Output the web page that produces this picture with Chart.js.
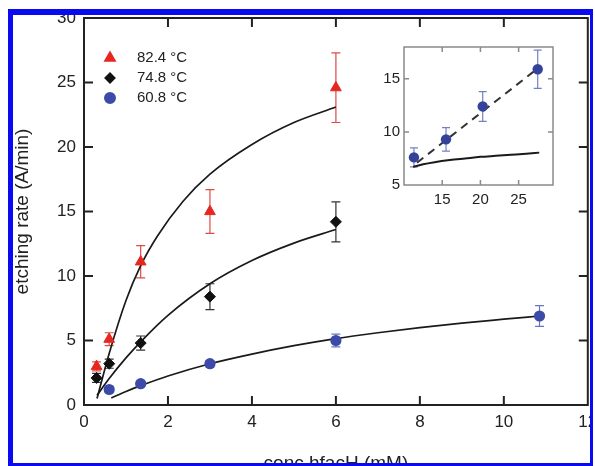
<!DOCTYPE html>
<html>
<head>
<meta charset="utf-8">
<script src="https://cdn.jsdelivr.net/npm/chart.js@4.4.1/dist/chart.umd.min.js"></script>
<style>
  html, body { margin: 0; padding: 0; background: #fff; overflow: hidden; }
  #wrap { position: relative; width: 595px; height: 466px; overflow: hidden; background: #fff; }
  #main { position: absolute; left: 0; top: 0; }
  #inset { position: absolute; left: 372px; top: 40px; }
  #frame {
    position: absolute; left: 8px; top: 9px; width: 585px; height: 457px;
    box-sizing: border-box; border-style: solid; border-color: #0a0af2;
    border-width: 6px 3px 3px 5px; box-shadow: 0 0 0 40px #fff; pointer-events: none;
  }
</style>
</head>
<body>
<div id="wrap">
  <canvas id="main" width="595" height="490"></canvas>
  <canvas id="inset" width="188" height="180"></canvas>
  <div id="frame"></div>
</div>
<script>
// measured points (conc hfacH in mM, etching rate in A/min)
const conc824 = [0.3, 0.6, 1.35, 3.0, 6.0];
const rate824 = [3.0, 5.1, 11.1, 15.0, 24.6];
const err824 = [0.35, 0.5, 1.25, 1.7, 2.7];

const conc748 = [0.3, 0.6, 1.35, 3.0, 6.0];
const rate748 = [2.1, 3.2, 4.8, 8.4, 14.2];
const err748 = [0.35, 0.35, 0.55, 1.0, 1.55];

const conc608 = [0.6, 1.35, 3.0, 6.0, 10.85];
const rate608 = [1.2, 1.65, 3.2, 5.0, 6.9];
const err608 = [0.25, 0.2, 0.25, 0.5, 0.8];

// fitted curves
const fitX824 = [0.31, 0.6, 1.0, 1.35, 1.75, 2.36, 3.0, 4.0, 5.0, 6.0];
const fitY824 = [0.5, 4.0, 8.1, 10.8, 13.1, 15.8, 17.9, 20.2, 21.9, 23.1];
const fitX748 = [0.31, 0.6, 1.0, 1.35, 2.0, 3.0, 4.0, 5.0, 6.0];
const fitY748 = [0.75, 2.05, 3.65, 4.9, 6.95, 9.4, 11.2, 12.55, 13.6];
const fitX608 = [0.65, 1.0, 1.35, 2.0, 3.0, 4.0, 5.0, 6.0, 7.0, 8.0, 9.0, 10.0, 10.85];
const fitY608 = [0.55, 1.05, 1.5, 2.25, 3.2, 3.95, 4.6, 5.15, 5.6, 6.0, 6.35, 6.65, 6.9];

// inset: 60.8 °C at high concentration
const concHi = [11.3, 15.5, 20.3, 27.5];
const rateHi = [7.6, 9.3, 12.4, 15.9];
const errHi = [0.9, 1.1, 1.4, 1.8];
const dashX = [11.7, 27.0];
const dashY = [7.1, 15.7];
const solidX = [11.2, 12.5, 14, 16, 18, 20, 22, 24, 26, 27.7];
const solidY = [6.7, 6.95, 7.15, 7.35, 7.5, 7.65, 7.75, 7.85, 7.95, 8.05];

const legendLabels = ['82.4 °C', '74.8 °C', '60.8 °C'];
const xTicks = [0, 2, 4, 6, 8, 10, 12];
const yTicks = [0, 5, 10, 15, 20, 25, 30];
const insetXTicks = [15, 20, 25];
const insetYTicks = [5, 10, 15];

const RED = '#e5271f', BLACK = '#111', BLUE = '#3d4ba8';

Chart.defaults.font.family = '"Liberation Sans", Arial, Helvetica, sans-serif';
Chart.defaults.color = '#222';

const pts = (xs, ys) => xs.map((x, i) => ({ x, y: ys[i] }));

// keep the plot box where the picture has it, no extra room for edge labels
const fixSize = (w, h) => s => {
  if (w) s.width = w;
  if (h) s.height = h;
  s.paddingTop = 0; s.paddingBottom = 0;
  s.paddingLeft = 0; s.paddingRight = 0;
};

// frame with inward ticks + error bars + optional legend
const framePlugin = {
  id: 'frame',
  beforeDraw(chart) {
    const { ctx, chartArea: a } = chart;
    ctx.save();
    ctx.fillStyle = '#fff';
    ctx.fillRect(a.left, a.top, a.right - a.left, a.bottom - a.top);
    ctx.restore();
  },
  beforeDatasetsDraw(chart, args, opts) {
    const { ctx, scales: { x, y } } = chart;
    ctx.save();
    (opts.errors || []).forEach(e => {
      ctx.strokeStyle = e.color;
      ctx.lineWidth = 1.2;
      e.xs.forEach((v, i) => {
        const px = x.getPixelForValue(v);
        const top = y.getPixelForValue(e.ys[i] + e.err[i]);
        const bot = y.getPixelForValue(e.ys[i] - e.err[i]);
        ctx.beginPath();
        ctx.moveTo(px, top); ctx.lineTo(px, bot);
        ctx.moveTo(px - e.cap, top); ctx.lineTo(px + e.cap, top);
        ctx.moveTo(px - e.cap, bot); ctx.lineTo(px + e.cap, bot);
        ctx.stroke();
      });
    });
    ctx.restore();
  },
  afterDatasetsDraw(chart, args, opts) {
    const { ctx, chartArea: a, scales: { x, y } } = chart;
    ctx.save();
    ctx.strokeStyle = opts.color;
    ctx.lineWidth = opts.width;
    ctx.strokeRect(a.left, a.top, a.right - a.left, a.bottom - a.top);
    ctx.beginPath();
    x.ticks.forEach(t => {
      const px = x.getPixelForValue(t.value);
      if (px <= a.left + 1 || px >= a.right - 1) return;
      ctx.moveTo(px, a.bottom); ctx.lineTo(px, a.bottom - opts.tick);
      ctx.moveTo(px, a.top); ctx.lineTo(px, a.top + opts.tick);
    });
    y.ticks.forEach(t => {
      const py = y.getPixelForValue(t.value);
      if (py <= a.top + 1 || py >= a.bottom - 1) return;
      ctx.moveTo(a.left, py); ctx.lineTo(a.left + opts.tick, py);
      ctx.moveTo(a.right, py); ctx.lineTo(a.right - opts.tick, py);
    });
    ctx.stroke();

    if (opts.legend) {
      const styles = [
        { pointStyle: 'triangle', radius: 5.5, color: RED },
        { pointStyle: 'rectRot', radius: 4.5, color: BLACK },
        { pointStyle: 'circle', radius: 5, color: BLUE }
      ];
      ctx.font = '15px "Liberation Sans", Arial, sans-serif';
      ctx.textBaseline = 'middle';
      legendLabels.forEach((lab, i) => {
        const cy = 57 + i * 20;
        ctx.fillStyle = styles[i].color;
        ctx.strokeStyle = styles[i].color;
        Chart.helpers.drawPoint(ctx, { pointStyle: styles[i].pointStyle, radius: styles[i].radius, rotation: 0, borderWidth: 1 }, 110, cy + 1);
        ctx.fillStyle = '#222';
        ctx.fillText(lab, 137, cy + 1);
      });
    }
    ctx.restore();
  }
};

const fitLine = (xs, ys, extra) => Object.assign({
  data: pts(xs, ys), showLine: true, pointRadius: 0, borderColor: '#1a1a1a',
  borderWidth: 1.7, fill: false, cubicInterpolationMode: 'monotone'
}, extra || {});

new Chart(document.getElementById('main'), {
  type: 'scatter',
  data: {
    datasets: [
      { data: pts(conc824, rate824), pointStyle: 'triangle', pointRadius: 6.2, backgroundColor: RED, borderColor: RED, borderWidth: 1 },
      { data: pts(conc748, rate748), pointStyle: 'rectRot', pointRadius: 5.5, backgroundColor: BLACK, borderColor: BLACK, borderWidth: 1 },
      { data: pts(conc608, rate608), pointStyle: 'circle', pointRadius: 5.6, backgroundColor: BLUE, borderColor: BLUE, borderWidth: 0 },
      fitLine(fitX824, fitY824),
      fitLine(fitX748, fitY748),
      fitLine(fitX608, fitY608)
    ]
  },
  options: {
    responsive: false,
    animation: false,
    layout: { padding: { top: 18, right: 7, left: 0, bottom: 0 } },
    plugins: {
      legend: { display: false },
      tooltip: { enabled: false },
      frame: {
        color: '#222', width: 2, tick: 9, legend: true,
        errors: [
          { xs: conc824, ys: rate824, err: err824, color: '#e04a45', cap: 4.5 },
          { xs: conc748, ys: rate748, err: err748, color: '#333', cap: 4.5 },
          { xs: conc608, ys: rate608, err: err608, color: '#6a76c0', cap: 4.5 }
        ]
      }
    },
    scales: {
      x: {
        type: 'linear', min: 0, max: 12,
        afterBuildTicks: s => { s.ticks = xTicks.map(v => ({ value: v })); },
        afterFit: fixSize(0, 85),
        grid: { display: false, drawTicks: false },
        border: { display: false },
        ticks: { autoSkip: false, maxRotation: 0, padding: 7, color: '#222', font: { size: 17 } },
        title: { display: true, text: 'conc hfacH (mM)', color: '#222', font: { size: 19, lineHeight: 1 }, padding: { top: 0, bottom: 16.5 } }
      },
      y: {
        type: 'linear', min: 0, max: 30,
        afterBuildTicks: s => { s.ticks = yTicks.map(v => ({ value: v })); },
        afterFit: fixSize(84, 0),
        grid: { display: false, drawTicks: false },
        border: { display: false },
        ticks: { padding: 8, color: '#222', font: { size: 17 } },
        title: { display: true, text: 'etching rate (A/min)', color: '#222', font: { size: 19, lineHeight: 1 }, padding: { top: 13.5, bottom: 0 } }
      }
    }
  },
  plugins: [framePlugin]
});

new Chart(document.getElementById('inset'), {
  type: 'scatter',
  data: {
    datasets: [
      { data: pts(concHi, rateHi), pointStyle: 'circle', pointRadius: 5.2, backgroundColor: '#34439a', borderWidth: 0 },
      fitLine(dashX, dashY, { borderDash: [8, 6], borderWidth: 2, borderColor: '#333' }),
      fitLine(solidX, solidY, { borderWidth: 2 })
    ]
  },
  options: {
    responsive: false,
    animation: false,
    layout: { padding: { top: 7, right: 7, left: 0, bottom: 0 } },
    plugins: {
      legend: { display: false },
      tooltip: { enabled: false },
      frame: {
        color: '#8a8a8a', width: 1.5, tick: 5,
        errors: [{ xs: concHi, ys: rateHi, err: errHi, color: '#7480c4', cap: 4 }]
      }
    },
    scales: {
      x: {
        type: 'linear', min: 10, max: 29.5,
        afterBuildTicks: s => { s.ticks = insetXTicks.map(v => ({ value: v })); },
        afterFit: fixSize(0, 35),
        grid: { display: false, drawTicks: false },
        border: { display: false },
        ticks: { autoSkip: false, maxRotation: 0, padding: 6, color: '#222', font: { size: 15 } }
      },
      y: {
        type: 'linear', min: 5, max: 18,
        afterBuildTicks: s => { s.ticks = insetYTicks.map(v => ({ value: v })); },
        afterFit: fixSize(32, 0),
        grid: { display: false, drawTicks: false },
        border: { display: false },
        ticks: { padding: 4, color: '#222', font: { size: 15 } }
      }
    }
  },
  plugins: [framePlugin]
});
</script>
</body>
</html>
